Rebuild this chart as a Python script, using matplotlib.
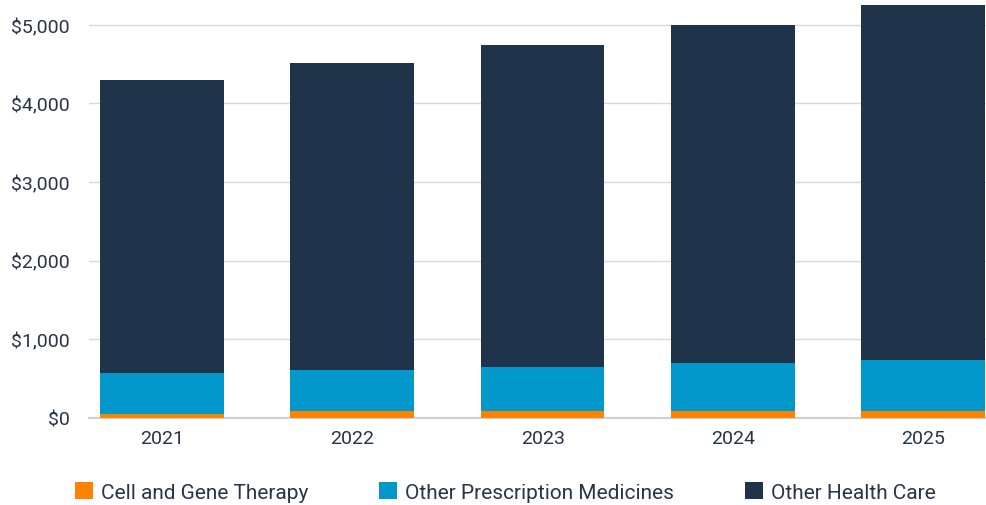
import matplotlib.pyplot as plt
from matplotlib.ticker import FuncFormatter

years = ["2021", "2022", "2023", "2024", "2025"]
cell_gene = [47, 89, 90, 90, 90]
other_rx = [526, 518, 555, 606, 643]
other_hc = [3723, 3910, 4097, 4309, 4517]

plt.rcParams['font.family'] = ['Roboto', 'DejaVu Sans']
text_col = '#263547'

fig = plt.figure(figsize=(9.87, 5.06), dpi=100)
ax = fig.add_axes([0.0902, 0.1725, 0.9098, 0.8275])

x = range(len(years))
w = 0.65
b1 = ax.bar(x, cell_gene, width=w, color='#ff8200', label='Cell and Gene Therapy', zorder=3)
b2 = ax.bar(x, other_rx, width=w, bottom=cell_gene, color='#0398cc',
            label='Other Prescription Medicines', zorder=3)
bottom2 = [a + b for a, b in zip(cell_gene, other_rx)]
b3 = ax.bar(x, other_hc, width=w, bottom=bottom2, color='#1f344b',
            label='Other Health Care', zorder=3, clip_on=False)

ax.set_xlim(-0.383, 4.335)
ax.set_ylim(0, 5330)
ax.set_yticks([0, 1000, 2000, 3000, 4000, 5000])
ax.yaxis.set_major_formatter(FuncFormatter(lambda v, p: f"${v:,.0f}"))
ax.set_xticks(list(x))
ax.set_xticklabels(years)

ax.grid(axis='y', color='#d9d9d9', linewidth=1, zorder=0)
for s in ['top', 'right', 'left']:
    ax.spines[s].set_visible(False)
ax.spines['bottom'].set_color('#d0d0d0')
ax.spines['bottom'].set_linewidth(1.5)
ax.tick_params(axis='both', length=0, labelsize=14, colors=text_col)
ax.tick_params(axis='y', pad=14)
ax.tick_params(axis='x', pad=8)

fig.legend(handles=[b1, b2, b3], loc='center', bbox_to_anchor=(0.512, 0.026),
           ncol=3, frameon=False, fontsize=15, handlelength=0.87, handleheight=0.87,
           handletextpad=0.38, columnspacing=3.4, labelcolor=text_col)

fig.savefig('out.png', dpi=100)
